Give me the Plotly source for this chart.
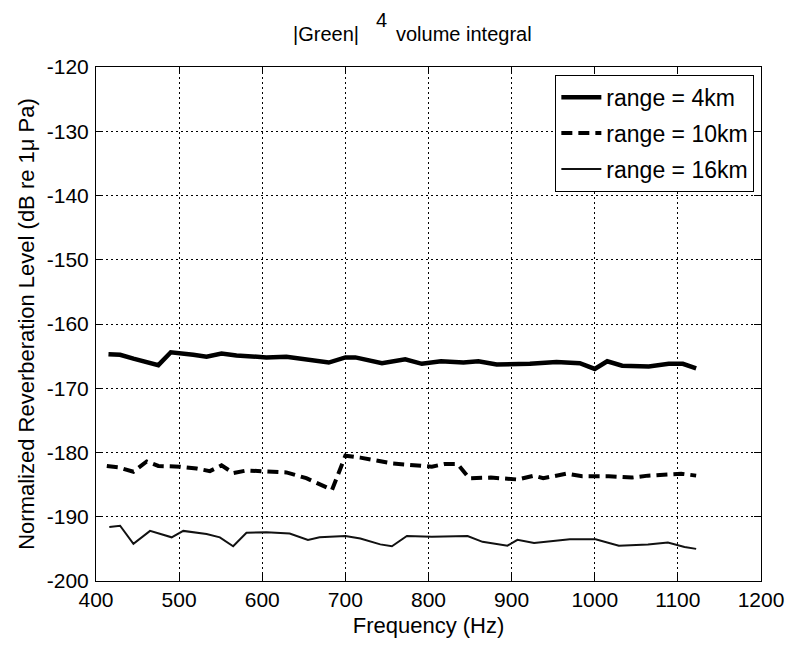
import plotly.graph_objects as go

# ---- data ----
freq_4km = [415, 429, 445, 475, 490, 501, 517, 533, 551, 569, 605, 629, 649, 680, 700, 712, 744,
            772, 792, 815, 842, 860, 882, 922, 954, 982, 1000, 1015, 1033, 1065, 1089, 1106, 1122]
lvl_4km = [-164.7, -164.8, -165.4, -166.4, -164.4, -164.5, -164.8, -165.1, -164.6, -164.9, -165.2,
           -165.1, -165.4, -166.0, -165.2, -165.2, -166.1, -165.5, -166.2, -165.8, -166.0, -165.8,
           -166.3, -166.2, -165.9, -166.1, -167.0, -165.8, -166.5, -166.6, -166.2, -166.2, -166.9]

freq_10km = [413, 427, 445, 461, 475, 501, 521, 537, 551, 565, 581, 605, 629, 653, 684, 700, 718,
             756, 783, 804, 819, 835, 849, 875, 907, 927, 938, 966, 985, 1017, 1045, 1064, 1104, 1122]
lvl_10km = [-182.1, -182.3, -183.0, -181.4, -182.1, -182.2, -182.5, -182.9, -182.0, -183.2, -182.8,
            -182.9, -183.1, -184.0, -185.8, -180.5, -180.8, -181.7, -181.9, -182.2, -181.8, -181.8,
            -184.0, -183.9, -184.2, -183.6, -184.0, -183.3, -183.7, -183.7, -183.9, -183.6, -183.3, -183.6]

freq_16km = [416, 429, 445, 465, 491, 505, 533, 549, 565, 581, 605, 633, 655, 669, 700, 718, 742,
             756, 774, 804, 847, 865, 895, 907, 927, 970, 1001, 1029, 1064, 1088, 1108, 1122]
lvl_16km = [-191.6, -191.4, -194.2, -192.2, -193.2, -192.2, -192.7, -193.2, -194.6, -192.5, -192.4,
            -192.6, -193.6, -193.2, -193.0, -193.4, -194.3, -194.6, -193.0, -193.1, -193.0, -193.9,
            -194.5, -193.6, -194.1, -193.5, -193.5, -194.5, -194.3, -194.0, -194.7, -195.0]

series_names = ["range = 4km", "range = 10km", "range = 16km"]
x_ticks = [400, 500, 600, 700, 800, 900, 1000, 1100, 1200]
y_ticks = [-120, -130, -140, -150, -160, -170, -180, -190, -200]

FONT = "Liberation Sans"

fig = go.Figure()
fig.add_trace(go.Scatter(x=freq_4km, y=lvl_4km, mode="lines", name=series_names[0],
                         legendgroup="a", line=dict(color="black", width=4.5)))
fig.add_trace(go.Scatter(x=freq_10km, y=lvl_10km, mode="lines", name=series_names[1],
                         legendgroup="b", line=dict(color="black", width=4, dash="11px,6px")))
fig.add_trace(go.Scatter(x=freq_16km, y=lvl_16km, mode="lines", name=series_names[2],
                         legendgroup="c", line=dict(color="#111111", width=2)))

axis_common = dict(
    showline=True, linecolor="black", linewidth=1, mirror="ticks",
    ticks="inside", ticklen=7, tickwidth=1, tickcolor="black",
    showgrid=True, gridcolor="black", gridwidth=1, griddash="2px,3px",
    zeroline=False, tickfont=dict(family=FONT, size=21, color="black"),
)

fig.update_xaxes(range=[400, 1200], tickvals=x_ticks, ticktext=[str(v) for v in x_ticks],
                 title=dict(text="Frequency (Hz)", font=dict(family=FONT, size=22, color="black"),
                            standoff=7),
                 **axis_common)
fig.update_yaxes(range=[-200, -120], tickvals=y_ticks, ticktext=[str(v) for v in y_ticks],
                 ticklabelstandoff=2,
                 title=dict(text="Normalized Reverberation Level (dB re 1\u03bc Pa)",
                            font=dict(family=FONT, size=22, color="black"), standoff=6),
                 **axis_common)

fig.update_layout(
    width=796, height=647,
    margin=dict(l=96, r=27, t=67, b=66),
    paper_bgcolor="white", plot_bgcolor="white",
    showlegend=True,
    legend=dict(x=0.99, y=0.985, xanchor="right", yanchor="top",
                bordercolor="black", borderwidth=1, bgcolor="white",
                font=dict(family=FONT, size=23, color="black"),
                tracegroupgap=3, itemwidth=40),
    font=dict(family=FONT, color="black"),
)

# title: |Green|^4 volume integral with a raised 4
fig.add_annotation(text="|Green|", xref="paper", yref="paper", x=(364 - 96) / 673, y=1.0,
                   xanchor="right", yanchor="bottom", yshift=20, showarrow=False,
                   font=dict(family=FONT, size=20, color="black"))
fig.add_annotation(text="4", xref="paper", yref="paper", x=(377 - 96) / 673, y=1.0,
                   xanchor="left", yanchor="bottom", yshift=34, showarrow=False,
                   font=dict(family=FONT, size=20, color="black"))
fig.add_annotation(text="volume integral", xref="paper", yref="paper", x=(398 - 96) / 673, y=1.0,
                   xanchor="left", yanchor="bottom", yshift=20, showarrow=False,
                   font=dict(family=FONT, size=20, color="black"))

fig.write_html("out.html")
